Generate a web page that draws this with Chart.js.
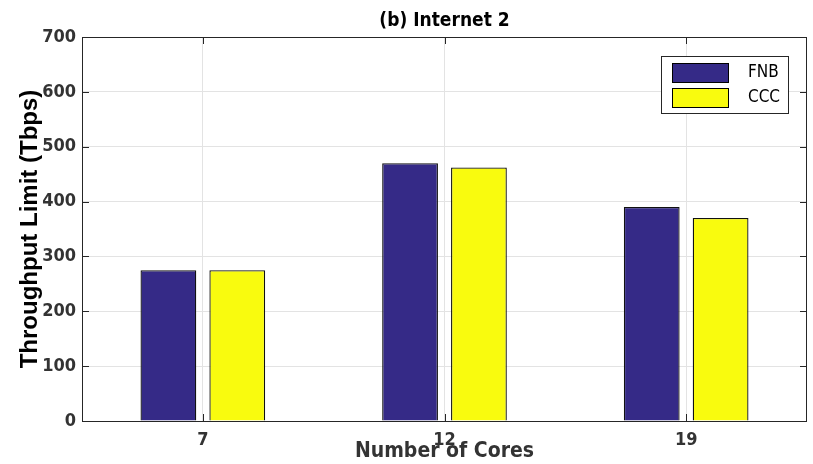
<!DOCTYPE html>
<html>
<head>
<meta charset="utf-8">
<script src="https://cdn.jsdelivr.net/npm/chart.js@4/dist/chart.umd.min.js"></script>
<style>
  html, body { margin: 0; padding: 0; background: #fff; }
  #wrap { width: 813px; height: 464px; }
</style>
</head>
<body>
<div id="wrap"><canvas id="chart" width="813" height="464"></canvas></div>
<script>
// chart data
const cores = ['7', '12', '19'];
const fnb = [275, 470, 390];
const ccc = [275, 462, 370];
const yTicks = [0, 100, 200, 300, 400, 500, 600, 700];

const FONT = "'Liberation Sans Narrow', 'DejaVu Sans Condensed', 'Liberation Sans', sans-serif";
const TXT = '#333333';

// box around the plot, inner tick marks, title and legend (matlab look)
const matlabFrame = {
  id: 'matlabFrame',
  afterDatasetsDraw(chart) {
    const { ctx, chartArea: a, scales } = chart;
    ctx.save();
    ctx.strokeStyle = '#262626';
    ctx.lineWidth = 1;
    ctx.strokeRect(a.left + 0.5, a.top + 0.5, a.right - a.left - 1, a.bottom - a.top);
    ctx.beginPath();
    scales.y.ticks.forEach((t, i) => {
      const y = Math.round(scales.y.getPixelForTick(i)) + 0.5;
      ctx.moveTo(a.left, y); ctx.lineTo(a.left + 7, y);
      ctx.moveTo(a.right, y); ctx.lineTo(a.right - 7, y);
    });
    scales.x.ticks.forEach((t, i) => {
      const x = Math.round(scales.x.getPixelForTick(i)) + 0.5;
      ctx.moveTo(x, a.bottom); ctx.lineTo(x, a.bottom - 7);
      ctx.moveTo(x, a.top); ctx.lineTo(x, a.top + 7);
    });
    ctx.stroke();

    // title
    ctx.fillStyle = '#000';
    ctx.font = "bold 19px " + FONT;
    ctx.textAlign = 'center';
    ctx.textBaseline = 'middle';
    ctx.fillText('(b) Internet 2', (a.left + a.right) / 2, 21);

    // legend
    const lx = 661, ly = 56, lw = 127, lh = 57;
    ctx.fillStyle = '#fff';
    ctx.fillRect(lx, ly, lw, lh);
    ctx.strokeStyle = '#262626';
    ctx.strokeRect(lx + 0.5, ly + 0.5, lw, lh);
    ctx.font = "17px " + FONT;
    ctx.textAlign = 'left';
    chart.data.datasets.forEach((ds, i) => {
      const sy = ly + 7 + i * 25;
      ctx.fillStyle = ds.backgroundColor;
      ctx.fillRect(lx + 11, sy, 56, 19);
      ctx.strokeStyle = '#000';
      ctx.strokeRect(lx + 11.5, sy + 0.5, 56, 19);
      ctx.fillStyle = '#000';
      ctx.fillText(ds.label, lx + 87, sy + 10);
    });
    ctx.restore();
  }
};

new Chart(document.getElementById('chart').getContext('2d'), {
  type: 'bar',
  data: {
    labels: cores,
    datasets: [
      { label: 'FNB', data: fnb, backgroundColor: '#352a87', borderColor: '#111', borderWidth: 1.3 },
      { label: 'CCC', data: ccc, backgroundColor: '#f9fb0e', borderColor: '#111', borderWidth: 1.3 }
    ]
  },
  options: {
    responsive: false,
    animation: false,
    layout: { padding: { top: 37, right: 6, left: 0, bottom: 0 } },
    datasets: {
      bar: { categoryPercentage: 0.57, barPercentage: 0.81 }
    },
    plugins: {
      legend: { display: false },
      title: { display: false },
      tooltip: { enabled: false }
    },
    scales: {
      x: {
        grid: { color: '#e3e3e3', drawTicks: false, offset: false },
        border: { display: false },
        ticks: { color: TXT, font: { family: FONT, size: 18, weight: 'bold' }, padding: 9, maxRotation: 0 },
        title: {
          display: true, text: 'Number of Cores', color: TXT,
          font: { family: FONT, size: 21, weight: 'bold' }, padding: { top: -5, bottom: 0 }
        },
        afterFit(scale) { scale.height = 43; }
      },
      y: {
        min: 0, max: 700,
        afterBuildTicks(scale) { scale.ticks = yTicks.map(v => ({ value: v })); },
        grid: { color: '#e3e3e3', drawTicks: false },
        border: { display: false },
        ticks: { color: TXT, font: { family: FONT, size: 18, weight: 'bold' }, padding: 6 },
        title: {
          display: true, text: 'Throughput Limit (Tbps)', color: '#000',
          font: { family: "'Liberation Sans', Arial, sans-serif", size: 24, weight: 'bold' }, padding: { top: 16, bottom: 4 }
        },
        afterFit(scale) { scale.width = 82; }
      }
    }
  },
  plugins: [matlabFrame]
});
</script>
</body>
</html>
